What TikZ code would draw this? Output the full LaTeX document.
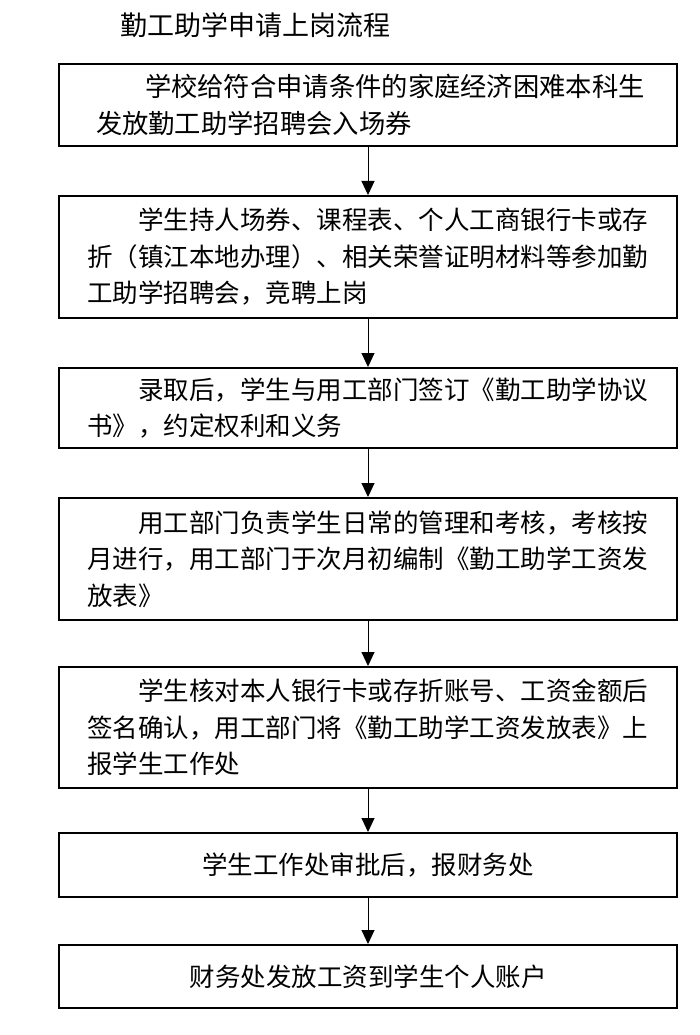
\documentclass[tikz,border=0pt]{standalone}
\usepackage{fontspec}
\setmainfont{Noto Sans CJK SC}
\usetikzlibrary{arrows.meta}
\tikzset{
  box/.style={draw=black, line width=2pt, minimum width=618pt, text width=562pt,
    inner xsep=28pt, inner ysep=0pt, align=left,
    font=\fontsize{25.5}{36.5}\selectfont},
  cbox/.style={box, align=center},
  arr/.style={line width=1pt, -{Triangle[width=13pt,length=14pt]}},
  ttl/.style={font=\fontsize{27}{30}\selectfont, inner sep=0pt}
}
\begin{document}
\begin{tikzpicture}[x=1pt,y=-1pt]
\useasboundingbox (0,0) rectangle (700,1035);
\node[ttl] (title) at (255,25) {勤工助学申请上岗流程};
\node[box, minimum height=82pt, font=\fontsize{26.3}{36.5}\selectfont] (b1) at (368,105)
  {\hspace*{58pt}学校给符合申请条件的家庭经济困难本科生\\\hspace*{9pt}发放勤工助学招聘会入场券};
\node[box, minimum height=122pt] (b2) at (368,257)
  {\hspace*{2em}学生持人场券、课程表、个人工商银行卡或存\\折（镇江本地办理）、相关荣誉证明材料等参加勤\\工助学招聘会，竞聘上岗};
\node[box, minimum height=80pt] (b3) at (368,408)
  {\hspace*{2em}录取后，学生与用工部门签订《勤工助学协议\\书》，约定权利和义务};
\node[box, minimum height=122pt] (b4) at (368,559)
  {\hspace*{2em}用工部门负责学生日常的管理和考核，考核按\\月进行，用工部门于次月初编制《勤工助学工资发\\放表》};
\node[box, minimum height=121pt] (b5) at (368,727.5)
  {\hspace*{2em}学生核对本人银行卡或存折账号、工资金额后\\签名确认，用工部门将《勤工助学工资发放表》上\\报学生工作处};
\node[cbox, minimum height=64pt] (b6) at (368,865) {学生工作处审批后，报财务处};
\node[cbox, minimum height=63pt] (b7) at (368,976.5) {财务处发放工资到学生个人账户};
\draw[arr] (b1) -- (b2);
\draw[arr] (b2) -- (b3);
\draw[arr] (b3) -- (b4);
\draw[arr] (b4) -- (b5);
\draw[arr] (b5) -- (b6);
\draw[arr] (b6) -- (b7);
\end{tikzpicture}
\end{document}
